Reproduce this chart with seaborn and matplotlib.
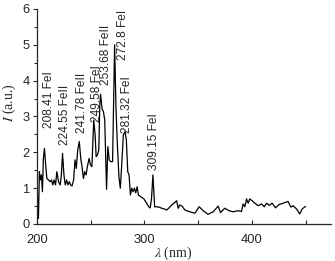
import matplotlib
matplotlib.use("Agg")
import numpy as np
import pandas as pd
import matplotlib.pyplot as plt
import seaborn as sns
from matplotlib.ticker import MultipleLocator

# espectro (nm, u.a.)
wavelength = [200.0, 201.0, 201.6, 202.5, 203.4, 204.4, 205.3, 206.2, 207.2, 208.1,
              209.4, 210.9, 212.5, 213.7, 215.0, 216.2, 217.5, 218.7, 220.3, 221.8,
              222.8, 224.0, 225.3, 226.5, 227.8, 229.0, 230.3, 231.5, 232.8, 234.3,
              235.6, 236.8, 238.1, 239.6, 240.9, 242.1, 243.4, 244.6, 245.9, 247.1,
              248.7, 249.9, 251.3, 253.0, 254.3, 255.2, 256.5, 257.7, 258.6, 259.3,
              260.8, 262.0, 263.2, 264.9, 266.1, 267.4, 268.6, 270.5, 272.4, 273.6,
              274.9, 276.4, 277.7, 278.9, 280.5, 282.1, 283.3, 284.6, 285.8, 287.1,
              288.3, 289.5, 290.8, 292.0, 293.3, 294.5, 295.8, 297.7, 299.6, 302.1,
              304.6, 305.5, 306.7, 308.0, 309.6, 311.4, 313.8, 316.1, 318.5, 320.7,
              323.0, 325.4, 328.4, 330.0, 331.5, 333.0, 335.0, 337.7, 342.3, 347.0,
              351.0, 354.7, 359.3, 364.0, 368.6, 370.8, 374.8, 378.8, 382.5, 387.2,
              390.3, 391.8, 393.4, 395.0, 396.5, 398.0, 400.2, 402.7, 405.8, 409.0,
              411.4, 413.6, 416.0, 418.8, 421.9, 425.0, 429.0, 433.6, 436.2, 438.3,
              441.4, 444.5, 446.7, 449.8]
intensity = [1.93, 0.35, 0.16, 1.46, 1.23, 1.37, 0.90, 1.83, 2.11, 1.74,
             1.27, 1.23, 1.18, 1.23, 1.09, 1.23, 1.09, 1.46, 1.18, 1.09,
             1.32, 1.97, 1.37, 1.09, 1.23, 1.09, 1.18, 1.09, 1.06, 1.23,
             1.79, 1.55, 2.07, 2.30, 1.83, 1.60, 1.27, 1.46, 1.37, 1.60,
             1.83, 1.65, 1.60, 2.90, 2.48, 1.88, 1.93, 2.07, 3.30, 3.62,
             3.20, 3.14, 2.90, 0.97, 2.16, 1.79, 1.74, 1.74, 5.00, 3.30,
             2.25, 1.32, 1.00, 1.60, 2.48, 2.58, 2.34, 1.46, 1.37, 0.81,
             1.00, 0.90, 1.00, 0.87, 1.04, 0.81, 0.78, 0.74, 0.70, 0.58,
             0.46, 0.45, 0.72, 1.37, 0.48, 0.48, 0.47, 0.44, 0.42, 0.39,
             0.45, 0.53, 0.60, 0.65, 0.44, 0.53, 0.50, 0.39, 0.34, 0.30,
             0.48, 0.37, 0.27, 0.34, 0.50, 0.32, 0.44, 0.37, 0.34, 0.37,
             0.35, 0.56, 0.48, 0.70, 0.58, 0.70, 0.65, 0.58, 0.51, 0.56,
             0.48, 0.58, 0.52, 0.58, 0.45, 0.54, 0.58, 0.63, 0.47, 0.51,
             0.42, 0.28, 0.42, 0.49]

# etiquetas de lineas atomicas
line_labels = ["208.41 FeI", "224.55 FeII", "241.78 FeII", "249.58 FeI",
               "253.68 FeII", "272.8 FeI", "281.32 FeI", "309.15 FeI"]
label_x = [211.4, 226.4, 242.3, 256.0, 264.3, 280.0, 284.2, 308.8]
label_y = [2.68, 2.20, 2.54, 2.85, 3.88, 4.58, 2.55, 1.51]

df = pd.DataFrame({"wl": wavelength, "I": intensity})

sns.set_style("ticks")
plt.rcParams['font.family'] = ['Liberation Sans', 'DejaVu Sans']
plt.rcParams['mathtext.fontset'] = 'stix'

fig = plt.figure(figsize=(3.35, 2.61), dpi=100)
ax = fig.add_axes([0.1096, 0.1418, 0.8785, 0.8238])

sns.lineplot(data=df, x="wl", y="I", color="black", linewidth=0.9, ax=ax)

for txt, lx, ly in zip(line_labels, label_x, label_y):
    ax.text(lx, ly, txt, rotation=90, ha="center", va="bottom", fontsize=8.6)

ax.set_xlim(200, 473.5)
ax.set_ylim(0, 6)
ax.xaxis.set_major_locator(MultipleLocator(100))
ax.xaxis.set_minor_locator(MultipleLocator(50))
ax.yaxis.set_major_locator(MultipleLocator(1))
ax.yaxis.set_minor_locator(MultipleLocator(0.5))
sns.despine(ax=ax)
for sp in ["left", "bottom"]:
    ax.spines[sp].set_linewidth(0.9)

ax.tick_params(axis="y", which="major", direction="out", length=3, width=0.8, pad=2, labelsize=9.3)
ax.tick_params(axis="y", which="minor", direction="out", length=2, width=0.8)
ax.tick_params(axis="x", which="major", direction="in", length=3, width=0.8, pad=7, labelsize=9.3)
ax.tick_params(axis="x", which="minor", direction="in", length=3, width=0.8)

ax.set_ylabel(r"$I$ (a.u.)", family="Liberation Serif", fontsize=10)
ax.yaxis.label.set_va("center")
ax.yaxis.set_label_coords(-0.093, 0.567)
ax.set_xlabel(r"$\lambda$ (nm)", family="Liberation Serif", fontsize=10)
ax.xaxis.set_label_coords(0.463, -0.095)
ax.xaxis.label.set_va("top")

fig.savefig("out.png", dpi=100)
